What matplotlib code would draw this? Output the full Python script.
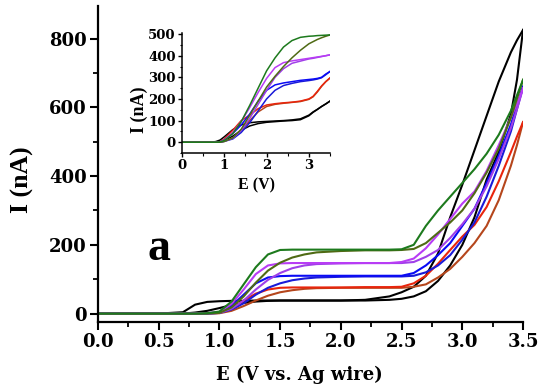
import matplotlib
matplotlib.use("Agg")
import matplotlib.pyplot as plt
from matplotlib.ticker import MultipleLocator

plt.rcParams['font.family'] = ['Liberation Serif', 'DejaVu Serif']
plt.rcParams['font.weight'] = 'bold'
WIDE = ['DejaVu Serif']

# ---------------- main panel data ----------------
E_main = [0.0, 0.5, 0.7, 0.8, 0.9, 1.0, 1.1, 1.2, 1.3, 1.4, 1.5, 1.6, 1.7, 1.8,
          2.0, 2.2, 2.4, 2.5, 2.6, 2.7, 2.8, 2.9, 3.0, 3.1, 3.2, 3.3, 3.4, 3.45, 3.5]

black_up = [0, 0, 4, 26, 34, 36, 37, 37, 38, 38, 38, 38, 38, 38,
            38, 40, 50, 62, 78, 110, 175, 280, 375, 475, 575, 675, 760, 795, 825]
black_lo = [0, 0, 0, 3, 8, 16, 25, 31, 35, 37, 38, 38, 38, 38,
            38, 38, 40, 43, 50, 65, 95, 140, 200, 280, 390, 470, 580, 680, 825]
red_up = [0, 0, 0, 0, 1, 3, 15, 38, 58, 70, 75, 76, 76, 76,
          76, 77, 77, 78, 88, 110, 145, 185, 224, 258, 310, 385, 470, 515, 557]
red_lo = [0, 0, 0, 0, 0, 1, 8, 22, 38, 52, 62, 68, 72, 74,
          75, 75, 75, 75, 78, 85, 105, 130, 165, 205, 255, 330, 430, 490, 557]
blue_up = [0, 0, 0, 0, 1, 4, 22, 55, 88, 105, 109, 110, 110, 110,
           110, 110, 110, 110, 118, 140, 170, 205, 255, 305, 380, 460, 550, 605, 660]
blue_lo = [0, 0, 0, 0, 0, 2, 12, 30, 55, 75, 88, 97, 102, 105,
           107, 108, 108, 108, 110, 120, 140, 170, 215, 265, 340, 430, 530, 595, 660]
mag_up = [0, 0, 0, 0, 1, 4, 28, 70, 115, 140, 146, 147, 147, 147,
          147, 147, 147, 150, 160, 190, 230, 275, 320, 355, 415, 490, 570, 610, 655]
mag_lo = [0, 0, 0, 0, 0, 2, 14, 38, 70, 98, 118, 132, 140, 144,
          146, 147, 147, 147, 150, 165, 185, 220, 260, 305, 370, 450, 540, 595, 655]
green_up = [0, 0, 0, 0, 1, 6, 35, 85, 135, 172, 185, 186, 186, 186,
            186, 186, 186, 187, 200, 255, 300, 340, 380, 420, 465, 520, 590, 635, 680]
green_lo = [0, 0, 0, 0, 0, 2, 18, 50, 90, 125, 148, 163, 172, 178,
            182, 184, 184, 185, 188, 205, 235, 265, 300, 350, 410, 480, 570, 625, 680]

# ---------------- inset data ----------------
E_in = [0.0, 0.7, 0.8, 0.9, 1.0, 1.2, 1.4, 1.6, 1.8, 2.0, 2.2, 2.4, 2.6, 2.8,
        3.0, 3.1, 3.2, 3.3, 3.4, 3.5]
in_black_up = [0, 0, 3, 10, 25, 58, 80, 90, 94, 96, 98, 100, 103, 108, 125, 140, 152, 165, 177, 190]
in_black_lo = [0, 0, 0, 2, 6, 28, 55, 75, 86, 92, 95, 98, 100, 104, 122, 138, 151, 165, 177, 190]
in_red_up = [0, 0, 0, 2, 15, 55, 100, 125, 155, 172, 178, 182, 185, 190, 200, 212, 235, 260, 280, 297]
in_red_lo = [0, 0, 0, 0, 5, 20, 55, 100, 140, 165, 175, 180, 184, 188, 198, 210, 232, 258, 280, 297]
in_blue_up = [0, 0, 0, 1, 10, 40, 80, 130, 190, 240, 265, 274, 280, 286, 290, 292, 295, 300, 315, 327]
in_blue_lo = [0, 0, 0, 0, 4, 15, 45, 90, 145, 200, 240, 262, 272, 280, 285, 288, 292, 298, 312, 327]
in_mag_up = [0, 0, 0, 1, 10, 45, 95, 160, 230, 295, 345, 368, 376, 382, 388, 391, 394, 397, 400, 404]
in_mag_lo = [0, 0, 0, 0, 4, 18, 55, 110, 175, 240, 300, 340, 365, 375, 385, 388, 392, 396, 400, 404]
in_green_up = [0, 0, 0, 1, 8, 40, 95, 170, 250, 330, 390, 440, 470, 485, 490, 491, 493, 494, 495, 496]
in_green_lo = [0, 0, 0, 0, 3, 20, 60, 125, 190, 255, 305, 350, 390, 425, 455, 465, 475, 483, 490, 496]

x_ticks = [0.0, 0.5, 1.0, 1.5, 2.0, 2.5, 3.0, 3.5]
y_ticks = [0, 200, 400, 600, 800]
in_x_ticks = [0, 1, 2, 3]
in_y_ticks = [0, 100, 200, 300, 400, 500]

series_main = [
    (black_up, '#000000'), (black_lo, '#000000'),
    (red_lo, '#b5461c'), (red_up, '#e8250c'),
    (blue_lo, '#1a1ad8'), (blue_up, '#0a0af5'),
    (mag_lo, '#a040e8'), (mag_up, '#b83cf5'),
    (green_lo, '#4f6a14'), (green_up, '#1d7a1d'),
]
series_in = [
    (in_black_up, '#000000'), (in_black_lo, '#000000'),
    (in_red_lo, '#b5461c'), (in_red_up, '#e8250c'),
    (in_blue_lo, '#1a1ad8'), (in_blue_up, '#0a0af5'),
    (in_mag_lo, '#a040e8'), (in_mag_up, '#b83cf5'),
    (in_green_lo, '#4f6a14'), (in_green_up, '#1d7a1d'),
]

fig = plt.figure(figsize=(5.5, 3.91), dpi=100)
ax = fig.add_axes([0.178, 0.176, 0.773, 0.809])
for vals, c in series_main:
    ax.plot(E_main, vals, color=c, lw=1.5, solid_joinstyle='round')
ax.set_xlim(0, 3.5)
ax.set_ylim(-25, 895)
ax.set_xticks(x_ticks)
ax.set_xticklabels([f"{v:.1f}" for v in x_ticks])
ax.set_yticks(y_ticks)
ax.xaxis.set_minor_locator(MultipleLocator(0.25))
ax.yaxis.set_minor_locator(MultipleLocator(100))
for s in ['top', 'right']:
    ax.spines[s].set_visible(False)
for s in ['left', 'bottom']:
    ax.spines[s].set_linewidth(1.6)
ax.tick_params(which='major', direction='out', length=6, width=1.5, pad=2)
ax.tick_params(which='minor', direction='out', length=3.5, width=1.3)
for lab in ax.get_xticklabels() + ax.get_yticklabels():
    lab.set_fontweight('bold')
    lab.set_fontfamily(WIDE)
    lab.set_fontsize(13)
ax.set_xlabel('E (V vs. Ag wire)', fontsize=13, fontweight='bold', family=WIDE)
ax.set_ylabel('I (nA)', fontsize=18.5, fontweight='bold')
ax.xaxis.set_label_coords(0.475, -0.165)
ax.xaxis.label.set_va('center')
ax.yaxis.set_label_coords(-0.178, 0.45)
ax.yaxis.label.set_va('center')
ax.text(0.41, 157, 'a', fontsize=33, fontweight='bold', ha='left', va='baseline')

# inset
axi = fig.add_axes([0.331, 0.6087, 0.269, 0.3069])
axi.patch.set_alpha(0)
for vals, c in series_in:
    axi.plot(E_in, vals, color=c, lw=1.1, solid_joinstyle='round')
axi.set_xlim(0, 3.5)
axi.set_ylim(-50, 505)
axi.set_xticks(in_x_ticks)
axi.set_yticks(in_y_ticks)
axi.xaxis.set_minor_locator(MultipleLocator(0.5))
axi.yaxis.set_minor_locator(MultipleLocator(50))
for s in ['top', 'right']:
    axi.spines[s].set_visible(False)
for s in ['left', 'bottom']:
    axi.spines[s].set_linewidth(1.1)
axi.tick_params(which='major', direction='out', length=3, width=1.0, pad=1.5)
axi.tick_params(which='minor', direction='out', length=1.8, width=0.8)
for lab in axi.get_xticklabels() + axi.get_yticklabels():
    lab.set_fontweight('bold')
    lab.set_fontfamily(WIDE)
    lab.set_fontsize(9.5)
axi.set_xlabel('E (V)', fontsize=11.5, fontweight='bold')
axi.set_ylabel('I (nA)', fontsize=13, fontweight='bold')
axi.xaxis.set_label_coords(0.5, -0.267)
axi.xaxis.label.set_va('center')
axi.yaxis.set_label_coords(-0.29, 0.36)
axi.yaxis.label.set_va('center')

fig.savefig('out.png', dpi=100)
